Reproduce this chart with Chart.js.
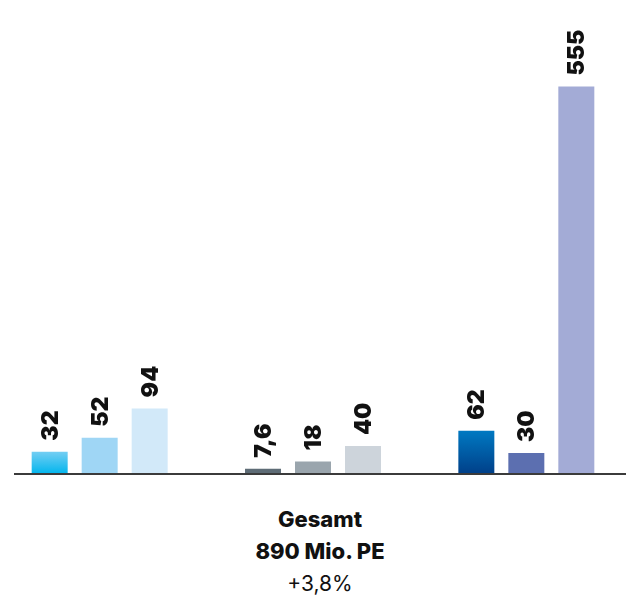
<!DOCTYPE html>
<html lang="de">
<head>
<meta charset="utf-8">
<title>Gesamt 890 Mio. PE</title>
<script src="https://cdn.jsdelivr.net/npm/chart.js@4.4.1/dist/chart.umd.min.js"></script>
<style>
    html, body { margin: 0; padding: 0; background: #fff; overflow: hidden; }
    body { width: 628px; height: 597px; position: relative; }
    #wrap { position: absolute; left: -7px; top: 0; width: 640px; height: 476px; }
    #total {
        position: absolute; left: 0; top: 503px; width: 640px;
        text-align: center; color: #111;
        font-family: 'Inter', 'Noto Sans', sans-serif; font-size: 22px; line-height: 32px;
    }
    #total b { font-weight: 800; }
    #total span { font-weight: 400; font-size: 21px; }
</style>
</head>
<body>
<div id="wrap"><canvas id="chart"></canvas></div>
<div id="total"><b>Gesamt</b><br><b>890 Mio. PE</b><br><span>+3,8%</span></div>
<script>
// Three groups, three bars per group
const groups = ['Gruppe 1', 'Gruppe 2', 'Gruppe 3'];
const firstBar = [32, 7.6, 62];
const secondBar = [52, 18, 30];
const thirdBar = [94, 40, 555];

// colours per group (first entry of a pair = gradient top, second = bottom)
const firstColors = [['#74cef3', '#00b5ed'], ['#5e6c76', '#5e6c76'], ['#0079c2', '#003f88']];
const secondColors = ['#9fd6f5', '#9aa5ad', '#5c6fb0'];
const thirdColors = ['#d2e9f9', '#cdd4db', '#a3abd6'];

const labelFont = "900 23px 'Inter', 'Noto Sans', sans-serif";

function gradientColor(context) {
    const pair = firstColors[context.dataIndex];
    const chart = context.chart;
    if (!chart.chartArea || pair[0] === pair[1]) return pair[1];
    const y = chart.scales.y;
    const top = y.getPixelForValue(context.raw);
    const bottom = y.getPixelForValue(0);
    const g = chart.ctx.createLinearGradient(0, top, 0, bottom);
    g.addColorStop(0, pair[0]);
    g.addColorStop(1, pair[1]);
    return g;
}

// rotated value labels above bars + baseline
const barLabels = {
    id: 'barLabels',
    afterDatasetsDraw(chart) {
        const ctx = chart.ctx;
        const base = chart.scales.y.getPixelForValue(0);
        ctx.save();
        ctx.strokeStyle = '#3b3b3b';
        ctx.lineWidth = 2;
        ctx.beginPath();
        ctx.moveTo(21, base);
        ctx.lineTo(633, base);
        ctx.stroke();

        ctx.fillStyle = '#111';
        ctx.font = labelFont;
        ctx.textAlign = 'left';
        ctx.textBaseline = 'middle';
        chart.data.datasets.forEach((ds, i) => {
            chart.getDatasetMeta(i).data.forEach((bar, j) => {
                const txt = ds.data[j].toLocaleString('de-DE');
                ctx.save();
                ctx.translate(bar.x + 1, bar.y - 11);
                ctx.rotate(-Math.PI / 2);
                ctx.fillText(txt, 0, 0);
                ctx.restore();
            });
        });
        ctx.restore();
    }
};

new Chart(document.getElementById('chart'), {
    type: 'bar',
    data: {
        labels: groups,
        datasets: [
            { data: firstBar, backgroundColor: gradientColor },
            { data: secondBar, backgroundColor: secondColors },
            { data: thirdBar, backgroundColor: thirdColors }
        ]
    },
    options: {
        responsive: true,
        maintainAspectRatio: false,
        animation: false,
        layout: { padding: { top: 0, bottom: 2, left: 0, right: 0 } },
        datasets: { bar: { categoryPercentage: 0.703, barPercentage: 0.72 } },
        plugins: { legend: { display: false }, tooltip: { enabled: false } },
        scales: {
            x: { display: false },
            y: { display: false, min: 0, max: 679 }
        }
    },
    plugins: [barLabels]
});
</script>
</body>
</html>
